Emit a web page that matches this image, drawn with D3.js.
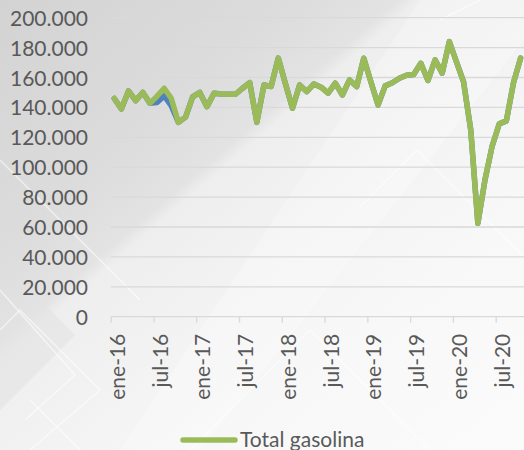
<!DOCTYPE html>
<html>
<head>
<meta charset="utf-8">
<script src="https://cdnjs.cloudflare.com/ajax/libs/d3/7.8.5/d3.min.js"></script>
<style>
  body { margin: 0; overflow: hidden; }
  text { font-family: Lato, "Open Sans", sans-serif; fill: #595959; }
</style>
</head>
<body>
<div id="main"></div>
<script>
var months = ["ene-16","feb-16","mar-16","abr-16","may-16","jun-16","jul-16","ago-16","sep-16","oct-16","nov-16","dic-16",
  "ene-17","feb-17","mar-17","abr-17","may-17","jun-17","jul-17","ago-17","sep-17","oct-17","nov-17","dic-17",
  "ene-18","feb-18","mar-18","abr-18","may-18","jun-18","jul-18","ago-18","sep-18","oct-18","nov-18","dic-18",
  "ene-19","feb-19","mar-19","abr-19","may-19","jun-19","jul-19","ago-19","sep-19","oct-19","nov-19","dic-19",
  "ene-20","feb-20","mar-20","abr-20","may-20","jun-20","jul-20","ago-20","sep-20","oct-20"];
var tickLabels = ["ene-16","jul-16","ene-17","jul-17","ene-18","jul-18","ene-19","jul-19","ene-20","jul-20"];
var yTicks = [0, 20000, 40000, 60000, 80000, 100000, 120000, 140000, 160000, 180000, 200000];
// total gasolina (green)
var totalGasolina = [146000,139000,151000,144500,150000,142800,147500,152800,146000,130000,133500,147000,
  150000,140500,149500,149000,148800,148800,152800,156500,130000,155000,154000,173000,
  156000,139400,155000,150600,155700,153500,149500,156200,148300,158400,153900,172900,
  157000,141600,154400,156500,159500,161500,162000,169500,158000,171800,162900,184000,
  170500,157000,125000,62500,91500,114000,129000,131000,156500,173000];
// second series, mostly hidden under the green one
var serieAzul = [146000,139000,151000,144500,150000,142800,143200,147700,141000,130000,133500,147000,
  150000,140500,149500,149000,148800,148800,152800,156500,130000,155000,154000,173000,
  156000,139400,155000,150600,155700,153500,149500,156200,148300,158400,153900,172900,
  157000,141600,154400,156500,159500,161500,162000,169500,158000,171800,162900,184000,
  170500,157000,125000,62500,91500,114000,129000,131000,156500,173000];

var W = 524, H = 450;
var svg = d3.select("#main").append("svg")
  .attr("width", W)
  .attr("height", H);

// background
var defs = svg.append("defs");
var grad = defs.append("linearGradient").attr("id", "bg")
  .attr("x1", "0").attr("y1", "0").attr("x2", "1").attr("y2", "1");
[["0%", "#d3d3d3"], ["28%", "#dcdcdc"], ["38%", "#e3e3e3"], ["40%", "#eeeeee"], ["55%", "#f3f3f3"], ["72%", "#f8f8f8"], ["100%", "#fbfbfb"]]
  .forEach(function(s) { grad.append("stop").attr("offset", s[0]).attr("stop-color", s[1]); });
svg.append("rect").attr("width", W).attr("height", H).attr("fill", "url(#bg)");
svg.append("path").attr("d", "M0,330 L40,300 L75,335 L0,410 Z").attr("fill", "#e2e2e2").attr("opacity", 0.6);
svg.append("path").attr("d", "M420,0 L524,0 L524,40 L200,450 L120,450 Z").attr("fill", "#ffffff").attr("opacity", 0.25);
var whiteLines = [
  "M0,160 L140,300", "M0,290 L75,375 L25,420", "M0,330 L20,310 L100,390 L30,450",
  "M360,207 L417,150 L524,257", "M190,450 L310,330 L430,450", "M80,450 L30,400",
  "M440,20 L480,0"
];
svg.append("g").selectAll("path").data(whiteLines).enter().append("path")
  .attr("d", function(d) { return d; })
  .attr("fill", "none")
  .attr("stroke", "#ffffff")
  .attr("stroke-width", 1.5)
  .attr("opacity", 0.55);

// scales
var x0 = 110.7, x1 = 524.2;
var xScale = d3.scaleBand().domain(months).range([x0, x1]).padding(0);
var xPos = function(i) { return xScale(months[i]) + xScale.bandwidth() / 2; };
var yScale = d3.scaleLinear().domain([0, 200000]).range([316.7, 17.7]);
var fmt = function(v) { return v === 0 ? "0" : d3.format(",")(v).replace(/,/g, "."); };

// gridlines
svg.append("g").selectAll("line").data(yTicks.slice(1)).enter().append("line")
  .attr("x1", x0).attr("x2", W)
  .attr("y1", function(d) { return yScale(d); })
  .attr("y2", function(d) { return yScale(d); })
  .attr("stroke", "#d9d9d9")
  .attr("stroke-width", 1.3);

// y labels
var yAxis = d3.axisLeft(yScale).tickValues(yTicks).tickFormat(fmt).tickSize(0).tickPadding(0);
var yg = svg.append("g").attr("transform", "translate(88,0)").call(yAxis);
yg.select(".domain").remove();
yg.selectAll("text").style("font-size", "21px").attr("fill", "#595959").attr("dy", "0.36em");

// x axis, ticks on category edges every 6 months
var edge = d3.scaleLinear().domain([0, months.length]).range([x0, x1]);
var xAxis = d3.axisBottom(edge).tickValues(d3.range(0, 60, 6)).tickSize(6).tickFormat(function(d, i) { return tickLabels[i]; });
var xg = svg.append("g").attr("transform", "translate(0,316.7)").call(xAxis);
xg.select(".domain").attr("stroke", "#d9d9d9").attr("stroke-width", 1.3).attr("d", "M" + x0 + ",0H" + W);
xg.selectAll(".tick line").attr("stroke", "#d9d9d9").attr("stroke-width", 1.3);
xg.selectAll(".tick text")
  .style("font-size", "21px")
  .attr("fill", "#595959")
  .attr("text-anchor", "end")
  .attr("transform", "translate(6,0) rotate(-90)")
  .attr("x", -17)
  .attr("y", 0)
  .attr("dy", "0.36em");

// lines
var line = d3.line()
  .x(function(d, i) { return xPos(i); })
  .y(function(d) { return yScale(d); });
svg.append("path").datum(serieAzul)
  .attr("d", line)
  .attr("fill", "none")
  .attr("stroke", "#4f81bd")
  .attr("stroke-width", 5.5)
  .attr("stroke-linejoin", "round")
  .attr("stroke-linecap", "round");
svg.append("path").datum(totalGasolina)
  .attr("d", line)
  .attr("fill", "none")
  .attr("stroke", "#9bbb59")
  .attr("stroke-width", 5.5)
  .attr("stroke-linejoin", "round")
  .attr("stroke-linecap", "round");

// legend
svg.append("line")
  .attr("x1", 183).attr("x2", 235).attr("y1", 440).attr("y2", 440)
  .attr("stroke", "#9bbb59").attr("stroke-width", 5.5).attr("stroke-linecap", "round");
svg.append("text")
  .attr("x", 240).attr("y", 447)
  .style("font-size", "21px")
  .text("Total gasolina");
</script>
</body>
</html>
